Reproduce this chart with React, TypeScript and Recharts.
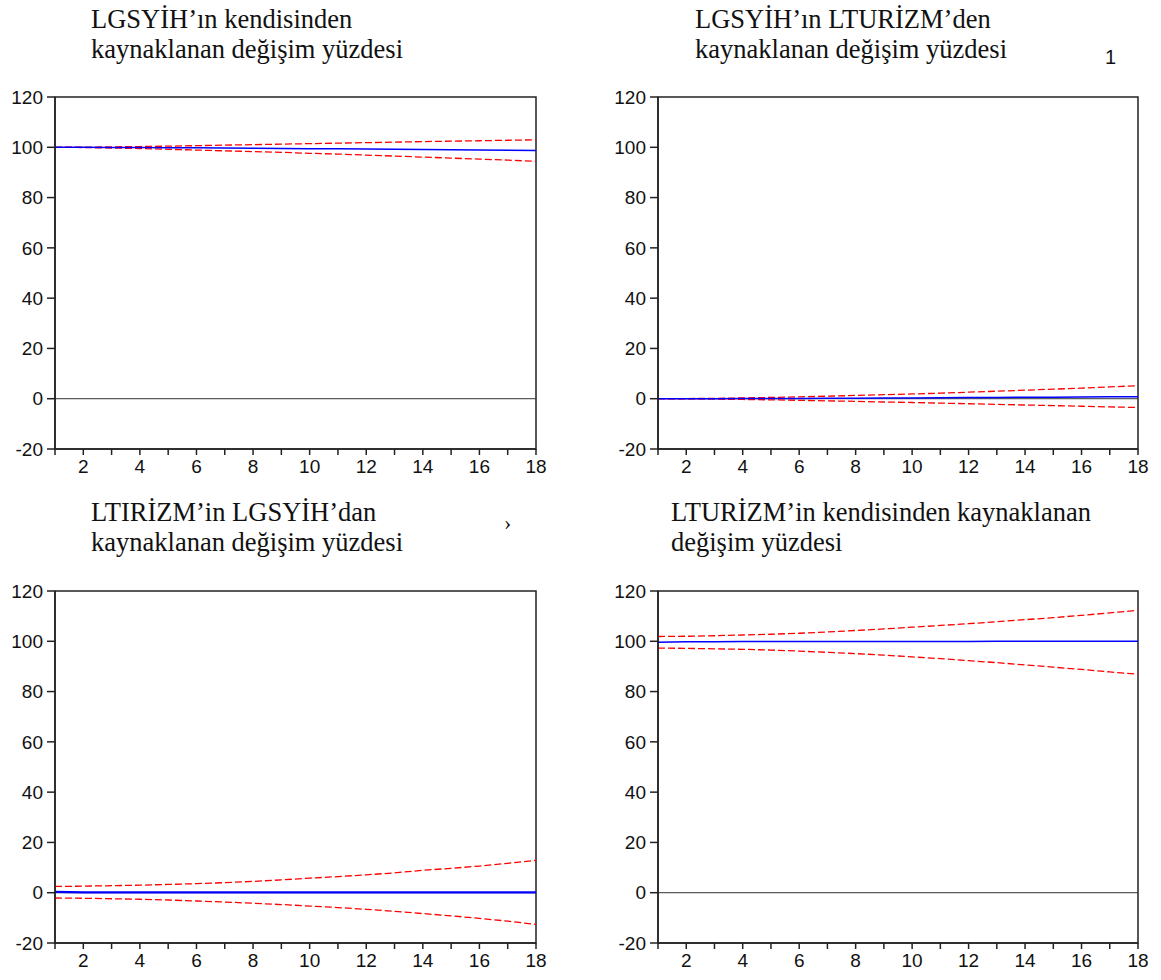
import { LineChart, Line, XAxis, YAxis, ReferenceLine, ReferenceArea } from "recharts";

const PERIODS = [1, 2, 3, 4, 5, 6, 7, 8, 9, 10, 11, 12, 13, 14, 15, 16, 17, 18];
const Y_TICKS = [-20, 0, 20, 40, 60, 80, 100, 120];

// LGSYİH'ın kendisinden
const P1_MID = [100, 99.98, 99.95, 99.9, 99.85, 99.78, 99.7, 99.62, 99.53, 99.45, 99.37, 99.28, 99.2, 99.1, 99.0, 98.9, 98.8, 98.7];
const P1_UP = [100, 100.05, 100.15, 100.3, 100.45, 100.65, 100.85, 101.05, 101.25, 101.45, 101.65, 101.85, 102.05, 102.25, 102.45, 102.6, 102.8, 102.95];
const P1_LO = [100, 99.9, 99.7, 99.5, 99.2, 98.9, 98.6, 98.3, 98.0, 97.6, 97.3, 96.9, 96.5, 96.1, 95.7, 95.3, 94.9, 94.4];

// LGSYİH'ın LTURİZM'den
const P2_MID = [0, 0.01, 0.03, 0.05, 0.08, 0.12, 0.16, 0.21, 0.26, 0.32, 0.38, 0.44, 0.5, 0.56, 0.62, 0.68, 0.74, 0.8];
const P2_UP = [0, 0.05, 0.15, 0.3, 0.5, 0.75, 1.0, 1.3, 1.6, 1.9, 2.2, 2.6, 3.0, 3.4, 3.8, 4.2, 4.7, 5.2];
const P2_LO = [0, -0.05, -0.15, -0.3, -0.45, -0.65, -0.85, -1.05, -1.3, -1.5, -1.75, -2.0, -2.25, -2.5, -2.75, -3.0, -3.25, -3.5];

// LTIRİZM'in LGSYİH'dan
const P3_MID = [0.3, 0.15, 0.1, 0.1, 0.1, 0.1, 0.1, 0.1, 0.1, 0.1, 0.1, 0.1, 0.1, 0.1, 0.1, 0.1, 0.1, 0.1];
const P3_UP = [2.5, 2.6, 2.8, 3.0, 3.3, 3.6, 4.0, 4.5, 5.1, 5.8, 6.4, 7.1, 7.9, 8.9, 9.7, 10.6, 11.7, 12.9];
const P3_LO = [-2.1, -2.2, -2.4, -2.6, -2.9, -3.3, -3.7, -4.2, -4.7, -5.3, -5.9, -6.6, -7.4, -8.3, -9.2, -10.2, -11.3, -12.6];

// LTURİZM'in kendisinden
const P4_MID = [99.6, 99.8, 99.85, 99.9, 99.9, 99.92, 99.93, 99.94, 99.95, 99.95, 99.96, 99.96, 99.97, 99.97, 99.97, 99.98, 99.98, 99.98];
const P4_UP = [101.9, 102.0, 102.2, 102.5, 102.8, 103.2, 103.7, 104.3, 104.9, 105.6, 106.3, 107.0, 107.8, 108.6, 109.4, 110.3, 111.3, 112.3];
const P4_LO = [97.3, 97.2, 97.0, 96.8, 96.5, 96.1, 95.6, 95.1, 94.5, 93.8, 93.1, 92.3, 91.5, 90.6, 89.7, 88.8, 87.8, 86.9];

const TITLES = [
  ["LGSYİH’ın kendisinden", "kaynaklanan değişim yüzdesi"],
  ["LGSYİH’ın LTURİZM’den", "kaynaklanan değişim yüzdesi"],
  ["LTIRİZM’in LGSYİH’dan", "kaynaklanan değişim yüzdesi"],
  ["LTURİZM’in kendisinden kaynaklanan", "değişim yüzdesi"],
];

const SERIES = [
  [P1_MID, P1_UP, P1_LO],
  [P2_MID, P2_UP, P2_LO],
  [P3_MID, P3_UP, P3_LO],
  [P4_MID, P4_UP, P4_LO],
];

const LAYOUT = [
  { left: 0, top: 87, width: 560, titleX: 91, titleY: 4 },
  { left: 603, top: 87, width: 559, titleX: 695, titleY: 4 },
  { left: 0, top: 581, width: 560, titleX: 91, titleY: 497 },
  { left: 603, top: 581, width: 559, titleX: 671, titleY: 497 },
];

const SANS = "'Liberation Sans', Arial, sans-serif";
const SERIF = "'Liberation Serif', 'Times New Roman', serif";
const TICK = { fill: "#111", fontSize: 19, fontFamily: SANS };
const AXIS = { stroke: "#222", strokeWidth: 1.5 };

function Panel({ idx }: { idx: number }) {
  const [mid, up, lo] = SERIES[idx];
  const data = PERIODS.map((p, i) => ({ p, mid: mid[i], up: up[i], lo: lo[i] }));
  const pos = LAYOUT[idx];
  return (
    <>
      <div
        style={{
          position: "absolute",
          left: pos.titleX,
          top: pos.titleY,
          fontFamily: SERIF,
          fontSize: 26.5,
          lineHeight: "30px",
          color: "#111",
          whiteSpace: "nowrap",
        }}
      >
        <div>{TITLES[idx][0]}</div>
        <div>{TITLES[idx][1]}</div>
      </div>
      <div style={{ position: "absolute", left: pos.left, top: pos.top }}>
        <LineChart width={pos.width} height={392} data={data} margin={{ top: 10, right: 24, left: 0, bottom: 0 }}>
          <XAxis
            dataKey="p"
            type="number"
            domain={[1, 18]}
            ticks={PERIODS}
            interval={0}
            tickFormatter={(v: number) => (v % 2 === 0 ? String(v) : "")}
            tick={TICK}
            tickSize={6}
            tickMargin={5}
            tickLine={AXIS}
            axisLine={AXIS}
            height={30}
          />
          <YAxis
            domain={[-20, 120]}
            ticks={Y_TICKS}
            interval={0}
            tick={TICK}
            tickSize={8}
            tickMargin={4}
            tickLine={AXIS}
            axisLine={AXIS}
            width={55}
          />
          <ReferenceArea x1={1} x2={18} y1={-20} y2={120} fill="none" stroke="#222" strokeWidth={1.5} ifOverflow="visible" />
          <ReferenceLine y={0} stroke="#333" strokeWidth={1} />
          <Line dataKey="up" stroke="#ff0000" strokeWidth={1.3} strokeDasharray="7 3" dot={false} isAnimationActive={false} />
          <Line dataKey="lo" stroke="#ff0000" strokeWidth={1.3} strokeDasharray="7 3" dot={false} isAnimationActive={false} />
          <Line dataKey="mid" stroke="#0000ff" strokeWidth={idx === 2 ? 2.2 : 1.5} dot={false} isAnimationActive={false} />
        </LineChart>
      </div>
    </>
  );
}

export default function App() {
  return (
    <div style={{ position: "absolute", left: 0, top: 0, width: 1161, height: 980, background: "#fff" }}>
      {[0, 1, 2, 3].map((i) => (
        <Panel key={i} idx={i} />
      ))}
      <div style={{ position: "absolute", left: 1105, top: 46, fontFamily: SANS, fontSize: 20, color: "#111" }}>
        1
      </div>
      <div style={{ position: "absolute", left: 504, top: 510, fontFamily: SERIF, fontSize: 22, color: "#111" }}>
        ›
      </div>
    </div>
  );
}
